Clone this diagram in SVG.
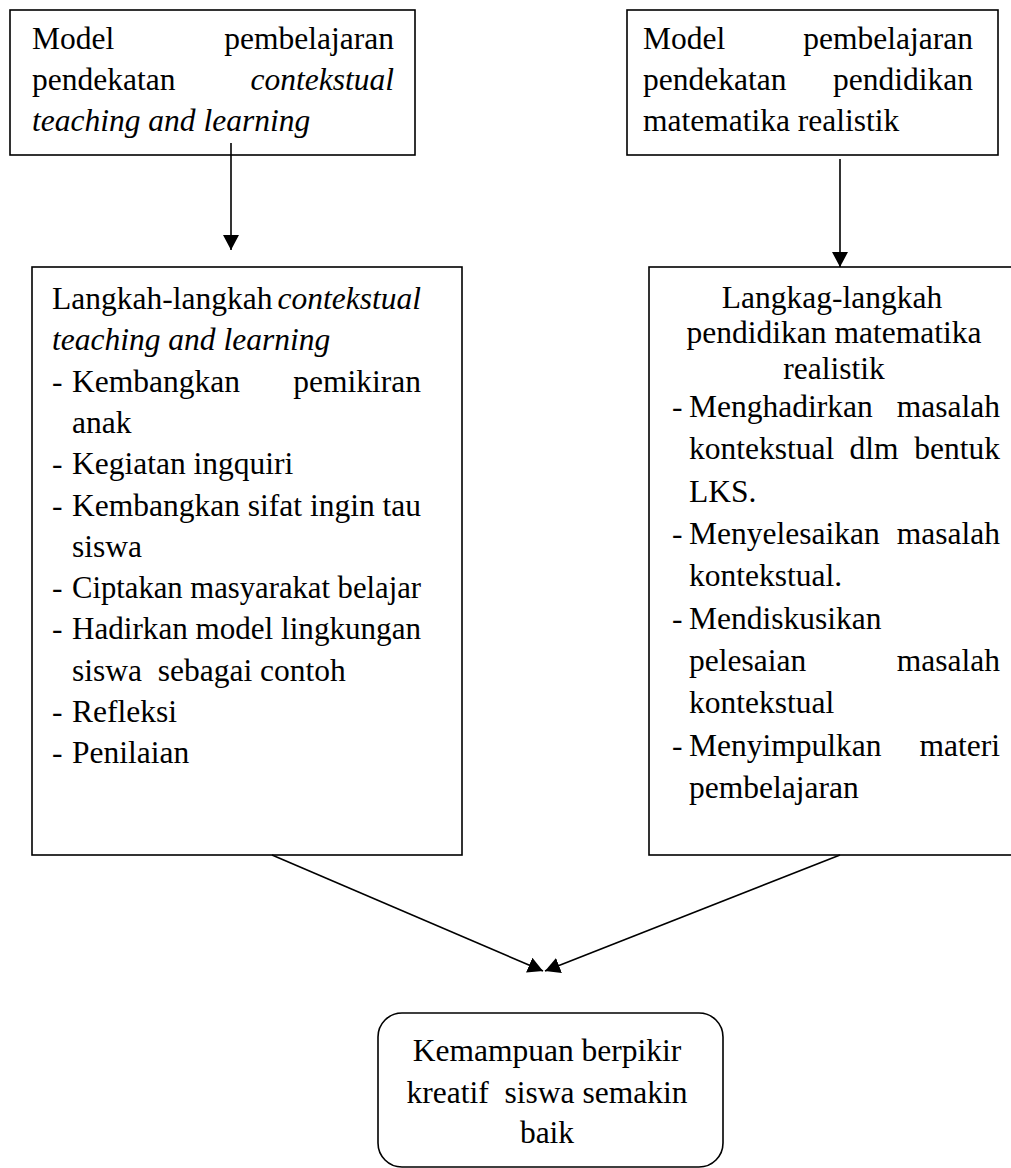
<svg xmlns="http://www.w3.org/2000/svg" width="1011" height="1168" viewBox="0 0 1011 1168">
<style>
text{font-family:'Liberation Serif',Tinos,'Times New Roman','DejaVu Serif',serif;font-size:31.5px;fill:#000}
.i{font-style:italic}
.e{text-anchor:end}
.m{text-anchor:middle}
.box{fill:#fff;stroke:#000;stroke-width:1.6}
.con{stroke:#000;stroke-width:1.6;fill:none}
</style>
<defs>
<marker id="ah" viewBox="0 0 15 16" refX="15" refY="8" markerWidth="15" markerHeight="16" markerUnits="userSpaceOnUse" orient="auto">
<path d="M0,0 L15,8 L0,16 z" fill="#000"/>
</marker>
</defs>
<rect width="1011" height="1168" fill="#fff"/>
<g id="node-ctl-model">
<rect class="box" x="10" y="10" width="405" height="145"/>
<text x="32" y="49">Model</text><text class="e" x="394" y="49">pembelajaran</text>
<text x="32" y="90">pendekatan</text><text class="e i" x="394" y="90">contekstual</text>
<text class="i" x="32" y="131">teaching and learning</text>
</g>
<g id="node-pmr-model">
<rect class="box" x="627" y="10" width="371" height="145"/>
<text x="643" y="49">Model</text><text class="e" x="973" y="49">pembelajaran</text>
<text x="643" y="90">pendekatan</text><text class="e" x="973" y="90">pendidikan</text>
<text x="643" y="131">matematika realistik</text>
</g>
<g id="node-ctl-steps">
<rect class="box" x="32" y="267" width="430" height="588"/>
<text x="52" y="309">Langkah-langkah</text><text class="e i" x="421" y="309">contekstual</text>
<text class="i" x="52" y="350">teaching and learning</text>
<text x="52" y="392">-</text><text x="72" y="392">Kembangkan</text><text class="e" x="421" y="392">pemikiran</text>
<text x="72" y="433">anak</text>
<text x="52" y="474">-</text><text x="72" y="474">Kegiatan ingquiri</text>
<text x="52" y="516">-</text><text x="72" y="516">Kembangkan sifat ingin tau</text>
<text x="72" y="557">siswa</text>
<text x="52" y="598">-</text><text x="72" y="598" textLength="349" lengthAdjust="spacingAndGlyphs">Ciptakan masyarakat belajar</text>
<text x="52" y="639">-</text><text x="72" y="639" textLength="349" lengthAdjust="spacingAndGlyphs">Hadirkan model lingkungan</text>
<text x="72" y="681" xml:space="preserve">siswa  sebagai contoh</text>
<text x="52" y="722">-</text><text x="72" y="722">Refleksi</text>
<text x="52" y="763">-</text><text x="72" y="763">Penilaian</text>
</g>
<g id="node-pmr-steps">
<rect class="box" x="649" y="267" width="380" height="588"/>
<text class="m" x="832" y="308">Langkag-langkah</text>
<text class="m" x="834" y="343">pendidikan matematika</text>
<text class="m" x="834" y="379">realistik</text>
<text x="672" y="417">-</text><text x="689" y="417">Menghadirkan</text><text class="e" x="1000" y="417">masalah</text>
<text x="689" y="459">kontekstual</text><text class="m" x="874" y="459">dlm</text><text class="e" x="1000" y="459">bentuk</text>
<text x="689" y="502">LKS.</text>
<text x="672" y="544">-</text><text x="689" y="544">Menyelesaikan</text><text class="e" x="1000" y="544">masalah</text>
<text x="689" y="586">kontekstual.</text>
<text x="672" y="629">-</text><text x="689" y="629">Mendiskusikan</text>
<text x="689" y="671">pelesaian</text><text class="e" x="1000" y="671">masalah</text>
<text x="689" y="713">kontekstual</text>
<text x="672" y="756">-</text><text x="689" y="756">Menyimpulkan</text><text class="e" x="1000" y="756">materi</text>
<text x="689" y="798">pembelajaran</text>
</g>
<g id="node-result">
<rect class="box" x="378" y="1013" width="345" height="154" rx="24" ry="24"/>
<text class="m" x="547" y="1061">Kemampuan berpikir</text>
<text class="m" x="547" y="1103" xml:space="preserve">kreatif  siswa semakin</text>
<text class="m" x="547" y="1143">baik</text>
</g>
<g id="connectors">
<line class="con" x1="231" y1="143" x2="231" y2="250" marker-end="url(#ah)"/>
<line class="con" x1="840" y1="159" x2="840" y2="267" marker-end="url(#ah)"/>
<line class="con" x1="272" y1="855" x2="543" y2="971" marker-end="url(#ah)"/>
<line class="con" x1="840" y1="855" x2="545" y2="971" marker-end="url(#ah)"/>
</g>
</svg>
